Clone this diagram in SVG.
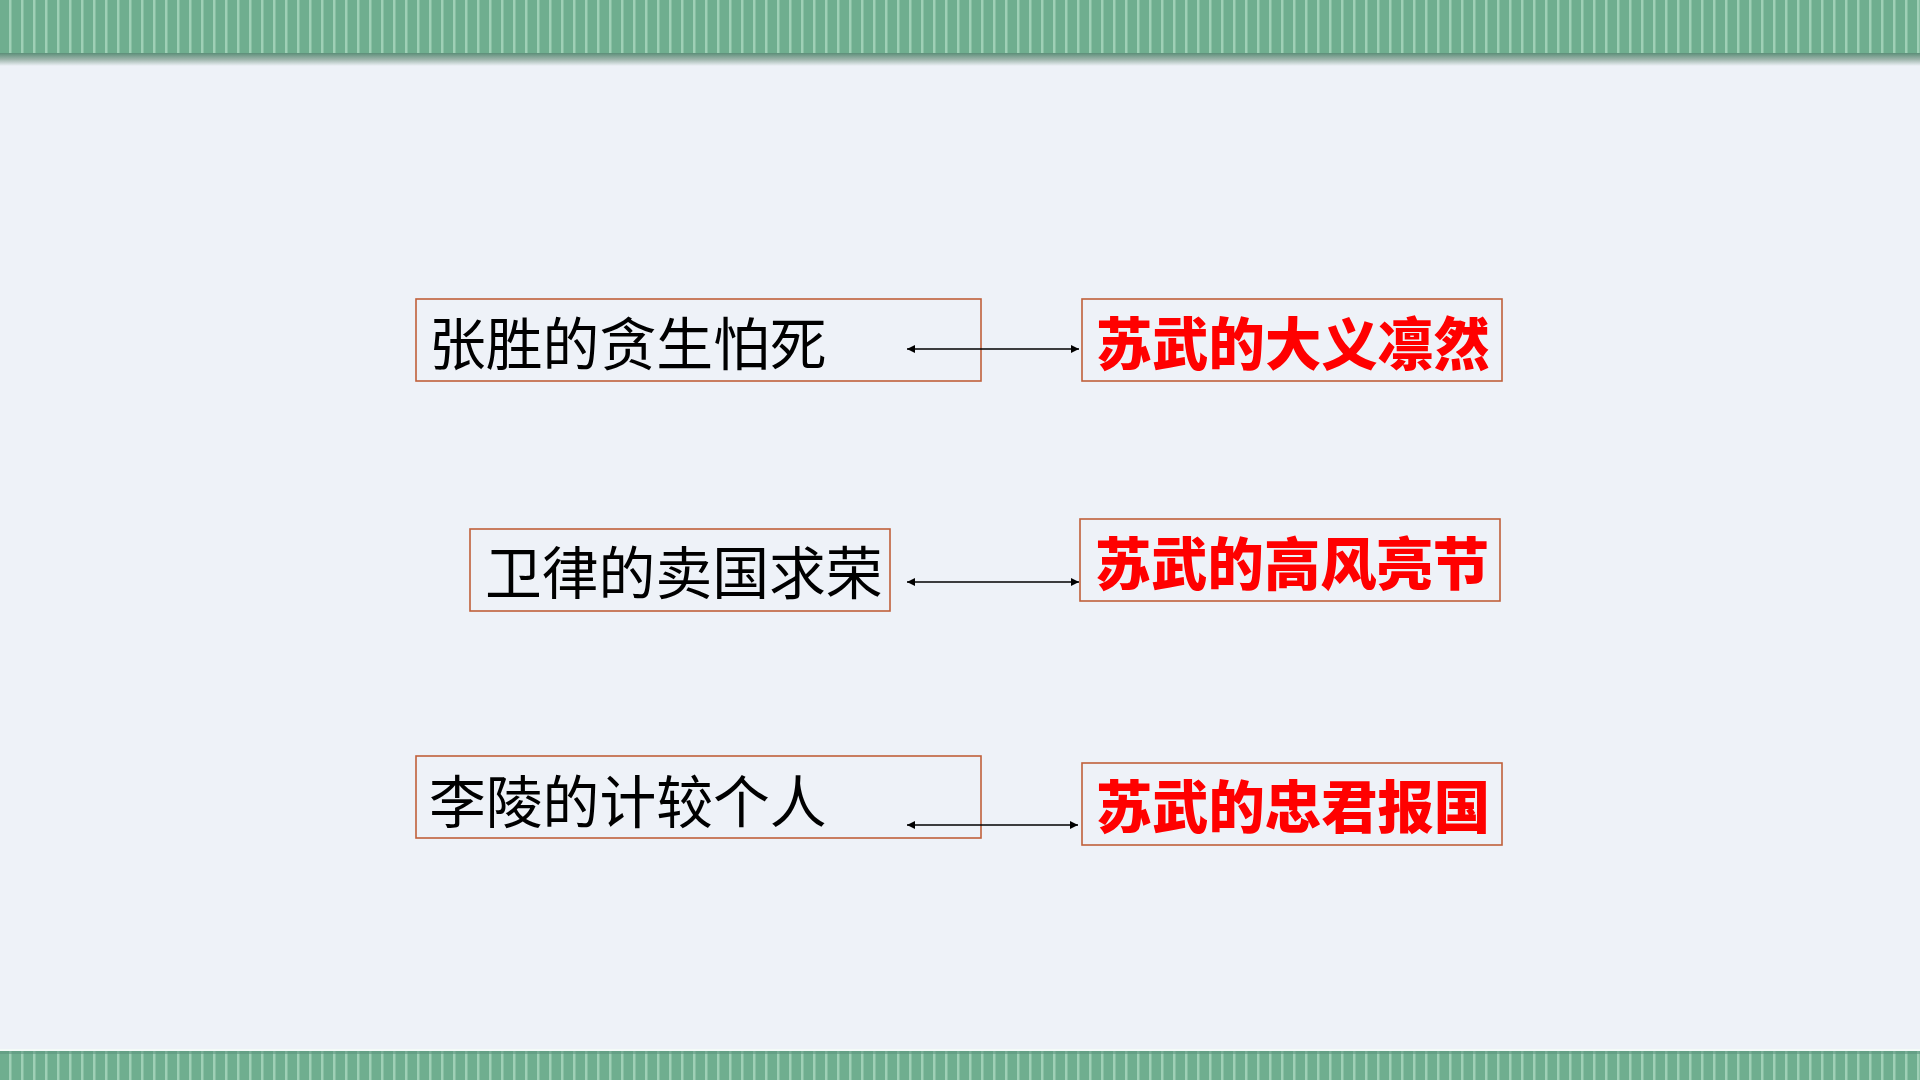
<svg xmlns="http://www.w3.org/2000/svg" width="1920" height="1080" viewBox="0 0 1920 1080">
<defs>
<pattern id="stripes" x="0" y="0" width="12" height="60" patternUnits="userSpaceOnUse">
<rect width="12" height="60" fill="#6fae8f"/>
<rect x="9" width="2.5" height="60" fill="#9fd0b6"/>
</pattern>
<linearGradient id="shadeTop" x1="0" y1="0" x2="0" y2="1">
<stop offset="0" stop-color="#5c8e78"/>
<stop offset="0.5" stop-color="#9fb6ad"/>
<stop offset="1" stop-color="#eef2f8"/>
</linearGradient>
<marker id="ah" viewBox="0 0 10 10" refX="10" refY="5" markerWidth="9" markerHeight="8" orient="auto-start-reverse" markerUnits="userSpaceOnUse">
<path d="M0,0 L10,5 L0,10 z" fill="#000"/>
</marker>
<style>
.box{fill:none;stroke:#c0603a;stroke-width:1.6}
.lt{font-family:"Noto Sans CJK SC","Microsoft YaHei",sans-serif;font-size:56.8px;fill:#000}
.rt{font-family:"Noto Sans CJK SC","Microsoft YaHei",sans-serif;font-size:56.3px;font-weight:900;fill:#ff0000}
.conn{stroke:#000;stroke-width:1.7;fill:none}
</style>
</defs>
<rect width="1920" height="1080" fill="#eef2f8"/>
<rect x="0" y="0" width="1920" height="53" fill="url(#stripes)"/>
<rect x="0" y="53" width="1920" height="13" fill="url(#shadeTop)"/>
<rect x="0" y="1049" width="1920" height="2" fill="#f4fbf8"/>
<rect x="0" y="1051" width="1920" height="29" fill="url(#stripes)"/>
<rect x="0" y="1051" width="1920" height="3" fill="#5f9680" opacity="0.6"/>

<g id="node-zhangsheng">
<rect class="box" x="416" y="299" width="565" height="82"/>
<text class="lt" x="429" y="365">张胜的贪生怕死</text>
</g>
<g id="node-suwu-1">
<rect class="box" x="1082" y="299" width="420" height="82"/>
<text class="rt" x="1096" y="365">苏武的大义凛然</text>
</g>
<g id="node-weilv">
<rect class="box" x="470" y="529" width="420" height="82"/>
<text class="lt" x="485" y="594">卫律的卖国求荣</text>
</g>
<g id="node-suwu-2">
<rect class="box" x="1080" y="519" width="420" height="82"/>
<text class="rt" x="1095" y="585">苏武的高风亮节</text>
</g>
<g id="node-liling">
<rect class="box" x="416" y="756" width="565" height="82"/>
<text class="lt" x="429" y="823">李陵的计较个人</text>
</g>
<g id="node-suwu-3">
<rect class="box" x="1082" y="763" width="420" height="82"/>
<text class="rt" x="1096" y="828">苏武的忠君报国</text>
</g>

<g id="connectors">
<line class="conn" x1="907" y1="349" x2="1079" y2="349" marker-start="url(#ah)" marker-end="url(#ah)"/>
<line class="conn" x1="907" y1="582" x2="1079" y2="582" marker-start="url(#ah)" marker-end="url(#ah)"/>
<line class="conn" x1="907" y1="825" x2="1078" y2="825" marker-start="url(#ah)" marker-end="url(#ah)"/>
</g>
</svg>
